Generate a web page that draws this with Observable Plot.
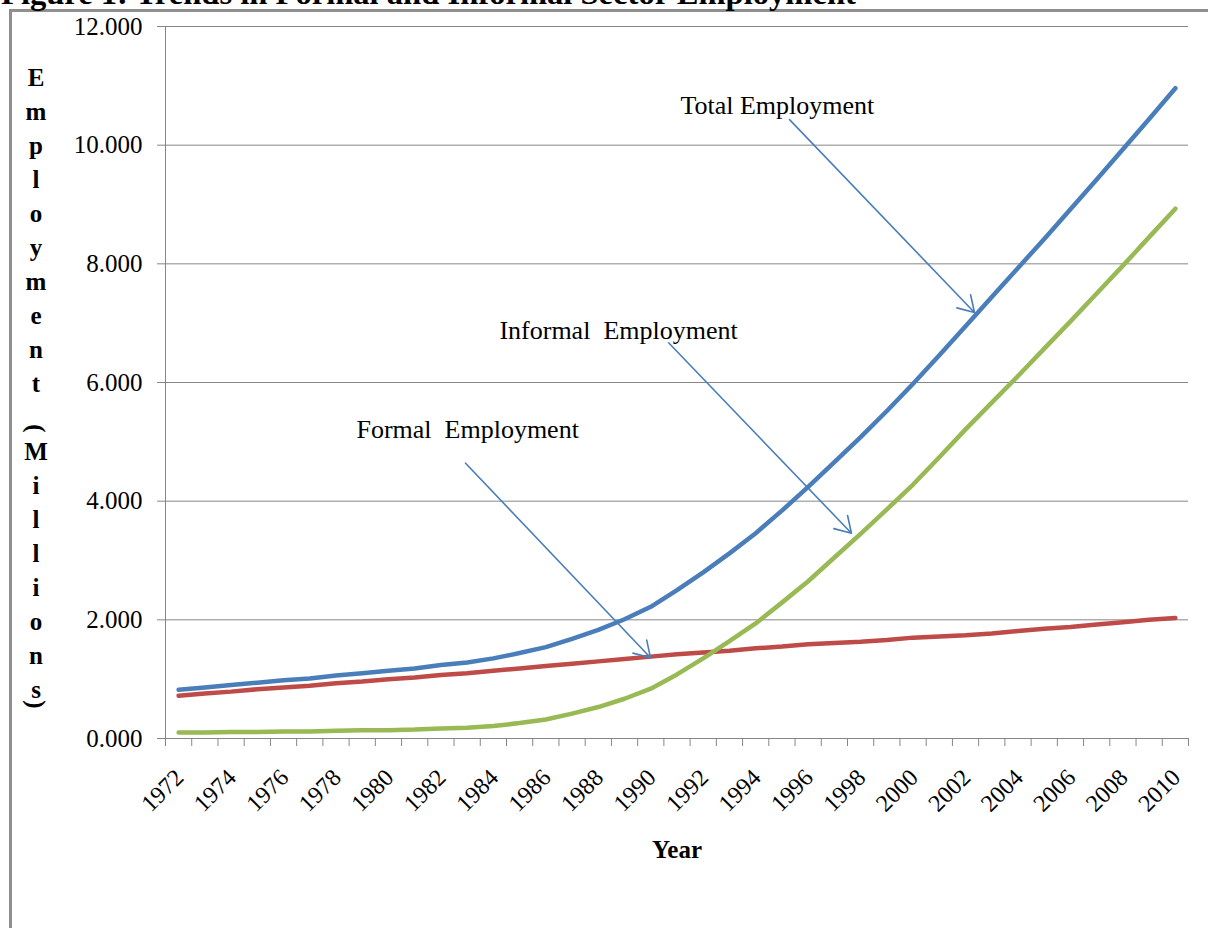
<!DOCTYPE html>
<html>
<head>
<meta charset="utf-8">
<script src="https://cdn.jsdelivr.net/npm/d3@7"></script>
<script src="https://cdn.jsdelivr.net/npm/@observablehq/plot@0.6"></script>
<style>
  html, body { margin: 0; padding: 0; background: #fff; overflow: hidden; }
  #wrap { position: relative; width: 1208px; height: 928px; overflow: hidden; font-family: "Liberation Serif", "Times New Roman", serif; }
  #frame { position: absolute; left: 9px; top: 9px; width: 1400px; height: 1200px; border: 3px solid #8f8f8f; }
  #title { position: absolute; left: 1px; top: -23px; font: bold 32.6px/32px "Liberation Serif", serif; white-space: nowrap; color: #000; }
  #chart { position: absolute; left: 0; top: 0; }
  .ych { position: absolute; font: bold 25px/25px "Liberation Serif", serif; color: #000; transform: translate(-50%, 0); }
</style>
</head>
<body>
<div id="wrap">
  <div id="frame"></div>
  <div id="title">Figure 1: Trends in Formal and Informal Sector Employment</div>
  <div id="ytitle"></div>
  <div id="chart"></div>
</div>
<script>
// Employment in millions, 1972–2010
const years = [1972, 1973, 1974, 1975, 1976, 1977, 1978, 1979, 1980, 1981, 1982, 1983, 1984,
  1985, 1986, 1987, 1988, 1989, 1990, 1991, 1992, 1993, 1994, 1995, 1996, 1997, 1998, 1999,
  2000, 2001, 2002, 2003, 2004, 2005, 2006, 2007, 2008, 2009, 2010];

const totalEmployment = [0.82, 0.86, 0.90, 0.94, 0.98, 1.01, 1.06, 1.10, 1.14, 1.18, 1.24, 1.28, 1.35,
  1.44, 1.54, 1.68, 1.83, 2.01, 2.22, 2.50, 2.80, 3.12, 3.46, 3.84, 4.24, 4.66, 5.08, 5.52,
  5.98, 6.46, 6.95, 7.44, 7.93, 8.42, 8.92, 9.42, 9.93, 10.44, 10.96];

const formalEmployment = [0.72, 0.76, 0.79, 0.83, 0.86, 0.89, 0.93, 0.96, 1.00, 1.03, 1.07, 1.10, 1.14,
  1.18, 1.22, 1.26, 1.30, 1.34, 1.38, 1.42, 1.45, 1.48, 1.52, 1.55, 1.59, 1.61, 1.63, 1.66,
  1.70, 1.72, 1.74, 1.77, 1.81, 1.85, 1.88, 1.92, 1.96, 2.00, 2.03];

const informalEmployment = [0.10, 0.10, 0.11, 0.11, 0.12, 0.12, 0.13, 0.14, 0.14, 0.15, 0.17, 0.18, 0.21,
  0.26, 0.32, 0.42, 0.53, 0.67, 0.84, 1.08, 1.35, 1.64, 1.94, 2.29, 2.65, 3.05, 3.45, 3.86,
  4.28, 4.74, 5.21, 5.66, 6.11, 6.57, 7.03, 7.50, 7.97, 8.45, 8.93];

const seriesNames = ["Total Employment", "Formal Employment", "Informal Employment"];
const seriesColors = ["#4a7ebb", "#be4b48", "#98b954"];

const yTicks = [0, 2, 4, 6, 8, 10, 12];
const xTickYears = [1972, 1974, 1976, 1978, 1980, 1982, 1984, 1986, 1988, 1990, 1992, 1994,
  1996, 1998, 2000, 2002, 2004, 2006, 2008, 2010];

// Callout labels and their arrows (year, value)
const calloutLabels = ["Total Employment", "Informal\u00a0 Employment", "Formal\u00a0 Employment"];
const calloutTextYear = [1991.13, 1984.23, 1978.78];
const calloutTextValue = [10.67, 6.88, 5.21];
const arrowFromYear = [1995.29, 1990.68, 1982.94];
const arrowFromValue = [10.43, 6.67, 4.64];
const arrowToYear = [2002.34, 1997.65, 1989.99];
const arrowToValue = [7.18, 3.46, 1.36];

const xTitle = "Year";
const yTitle = "Employment(Millions)";

// Long-format table, drawn in series order (later series on top)
const rows = [
  ...years.map((year, i) => ({series: seriesNames[0], year, value: totalEmployment[i]})),
  ...years.map((year, i) => ({series: seriesNames[1], year, value: formalEmployment[i]})),
  ...years.map((year, i) => ({series: seriesNames[2], year, value: informalEmployment[i]}))
];
const callouts = calloutLabels.map((label, i) => ({label, x: calloutTextYear[i], y: calloutTextValue[i]}));
const arrows = calloutLabels.map((label, i) => ({
  x1: arrowFromYear[i], y1: arrowFromValue[i], x2: arrowToYear[i], y2: arrowToValue[i]
}));
// category boundaries carry the small tick marks, as on a category axis
const boundaries = years.map(y => y - 0.5).concat([years[years.length - 1] + 0.5]);

const axisGray = "#868686";

const chart = Plot.plot({
  width: 1208,
  height: 928,
  marginLeft: 165,
  marginRight: 20,
  marginTop: 26,
  marginBottom: 190,
  style: {fontFamily: "'Liberation Serif', 'Times New Roman', serif", background: "transparent", color: "#000"},
  x: {type: "linear", domain: [boundaries[0], boundaries[boundaries.length - 1]]},
  y: {domain: [0, 12]},
  color: {domain: seriesNames, range: seriesColors},
  marks: [
    Plot.gridY(yTicks, {stroke: axisGray, strokeOpacity: 1, strokeWidth: 1}),
    Plot.ruleY([0], {stroke: axisGray, strokeWidth: 1}),
    Plot.ruleX([boundaries[0]], {stroke: axisGray, strokeWidth: 1}),
    Plot.axisY(yTicks, {
      tickSize: 8, tickPadding: 15, stroke: axisGray, fill: "#000",
      tickFormat: d => d.toFixed(3), fontSize: 25, label: null
    }),
    Plot.axisX(boundaries, {tickSize: 8, stroke: axisGray, tickFormat: () => "", label: null}),
    Plot.axisX(xTickYears, {
      tickSize: 0, tickRotate: -45, tickPadding: 35, dx: 1,
      textAnchor: "end", lineAnchor: "middle",
      fill: "#000", fontSize: 24, tickFormat: d => String(d), label: null
    }),
    Plot.line(rows, {
      x: "year", y: "value", z: "series", stroke: "series",
      strokeWidth: 4.5, strokeLinejoin: "round", strokeLinecap: "round"
    }),
    Plot.arrow(arrows, {
      x1: "x1", y1: "y1", x2: "x2", y2: "y2",
      stroke: "#4a7ebb", strokeWidth: 1.6, headLength: 17, headAngle: 63
    }),
    Plot.text(callouts, {
      x: "x", y: "y", text: "label", textAnchor: "start", lineAnchor: "middle",
      fontSize: 26, fill: "#000"
    }),
    Plot.text([xTitle], {frameAnchor: "bottom", dy: 119, fontSize: 25, fontWeight: "bold", fill: "#000"})
  ]
});
document.getElementById("chart").appendChild(chart);

// Stacked vertical axis title: one letter per line, parentheses turned sideways
const ytitle = document.getElementById("ytitle");
let baseline = 85;
for (const ch of yTitle) {
  const el = document.createElement("div");
  el.className = "ych";
  el.textContent = ch;
  el.style.left = "36px";
  if (ch === "(" || ch === ")") {
    const cy = ch === "(" ? 428 : 704;
    el.style.top = (cy - 12.5) + "px";
    el.style.transform = "translate(-50%, 0) rotate(90deg)";
    el.style.transformOrigin = "50% 50%";
  } else {
    // line box of 25px: baseline sits about 20px below its top
    el.style.top = (baseline - 20) + "px";
  }
  ytitle.appendChild(el);
  baseline += 34;
}
</script>
</body>
</html>
